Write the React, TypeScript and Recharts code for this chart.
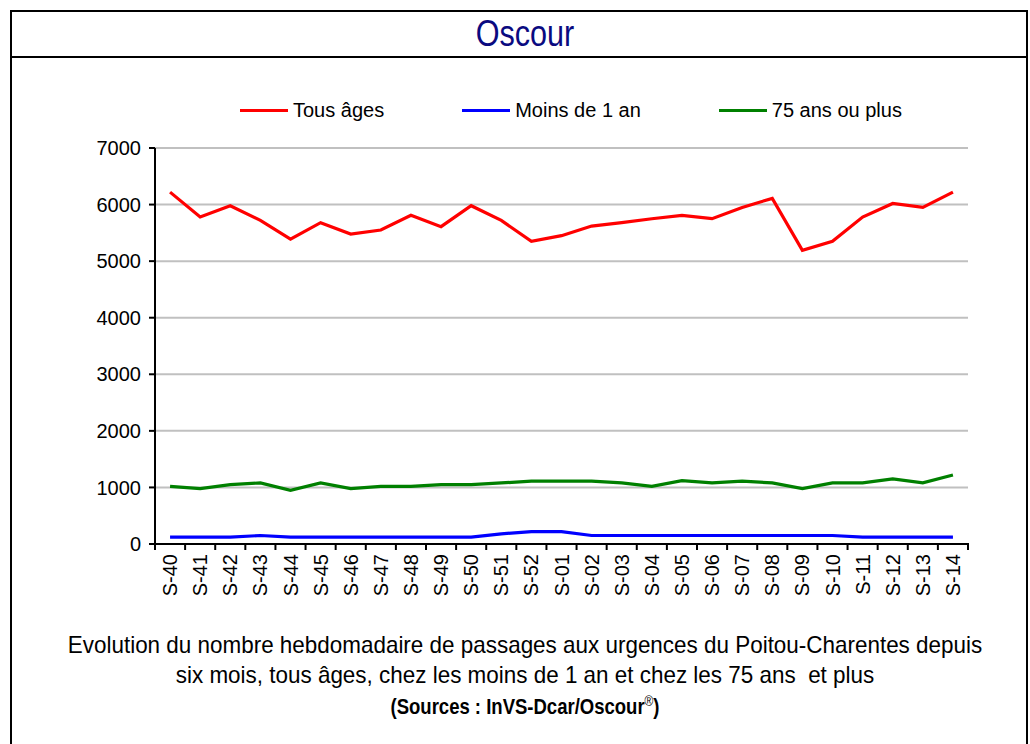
import { CartesianGrid, Line, LineChart, XAxis, YAxis } from "recharts";

const WEEKS = [
  "S-40", "S-41", "S-42", "S-43", "S-44", "S-45", "S-46", "S-47", "S-48", "S-49",
  "S-50", "S-51", "S-52", "S-01", "S-02", "S-03", "S-04", "S-05", "S-06", "S-07",
  "S-08", "S-09", "S-10", "S-11", "S-12", "S-13", "S-14"
];
const TOUS_AGES = [
  6220, 5780, 5980, 5720, 5390, 5680, 5480, 5550, 5810, 5610, 5980, 5720, 5350,
  5450, 5620, 5680, 5750, 5810, 5750, 5950, 6110, 5190, 5350, 5780, 6020, 5950, 6220
];
const MOINS_1_AN = [
  120, 120, 120, 150, 120, 120, 120, 120, 120, 120, 120, 180, 220,
  220, 150, 150, 150, 150, 150, 150, 150, 150, 150, 120, 120, 120, 120
];
const PLUS_75 = [
  1020, 980, 1050, 1080, 950, 1080, 980, 1020, 1020, 1050, 1050, 1080, 1110,
  1110, 1110, 1080, 1020, 1120, 1080, 1110, 1080, 980, 1080, 1080, 1150, 1080, 1220
];
const Y_TICKS = [0, 1000, 2000, 3000, 4000, 5000, 6000, 7000];

const SERIES = [
  { key: "tous", name: "Tous âges", color: "#ff0000", values: TOUS_AGES },
  { key: "moins1", name: "Moins de 1 an", color: "#0000ff", values: MOINS_1_AN },
  { key: "plus75", name: "75 ans ou plus", color: "#008000", values: PLUS_75 }
];

const FONT = "'Liberation Sans', Arial, sans-serif";

const PLOT_LEFT = 155;
const PLOT_RIGHT = 968;
const PLOT_TOP = 148;
const PLOT_BOTTOM = 544;
const Y_AXIS_W = 60;
const X_AXIS_H = 60;
const HALF_STEP = (PLOT_RIGHT - PLOT_LEFT) / WEEKS.length / 2;

const rows = WEEKS.map((week, i) => {
  const row: Record<string, string | number> = { week };
  SERIES.forEach((s) => {
    row[s.key] = s.values[i];
  });
  return row;
});

function WeekTick(props: any) {
  const { x, y, payload, index } = props;
  return (
    <g>
      <line x1={x - HALF_STEP} x2={x - HALF_STEP} y1={y - 9} y2={y - 2} stroke="#000" strokeWidth={2} />
      {index === WEEKS.length - 1 && (
        <line x1={x + HALF_STEP} x2={x + HALF_STEP} y1={y - 9} y2={y - 2} stroke="#000" strokeWidth={2} />
      )}
      <text
        transform={`translate(${x},${y + 2}) rotate(-90)`}
        textAnchor="end"
        dominantBaseline="central"
        fontFamily={FONT}
        fontSize={20}
        fill="#000"
      >
        {payload.value}
      </text>
    </g>
  );
}

export default function App() {
  return (
    <div style={{ position: "absolute", left: 0, top: 0, width: 1030, height: 744, overflow: "hidden", background: "#fff" }}>
      <div
        style={{
          position: "absolute",
          left: 10,
          top: 10,
          width: 1018,
          height: 800,
          border: "2px solid #000",
          boxSizing: "border-box"
        }}
      />
      <div style={{ position: "absolute", left: 10, top: 56, width: 1018, height: 2, background: "#000" }} />
      <div
        style={{
          position: "absolute",
          left: 16,
          top: 12,
          width: 1018,
          height: 44,
          lineHeight: "44px",
          textAlign: "center",
          fontFamily: FONT,
          fontSize: 36,
          color: "#0a0a80",
          transform: "scaleX(0.85)",
          transformOrigin: "center"
        }}
      >
        Oscour
      </div>

      <div style={{ position: "absolute", left: 0, top: 0 }}>
        <LineChart
          width={1030}
          height={744}
          data={rows}
          margin={{
            top: PLOT_TOP,
            right: 1030 - PLOT_RIGHT,
            bottom: 744 - PLOT_BOTTOM - X_AXIS_H,
            left: PLOT_LEFT - Y_AXIS_W
          }}
        >
          <CartesianGrid stroke="#c0c0c0" strokeWidth={2} vertical={false} />
          <XAxis
            dataKey="week"
            interval={0}
            height={X_AXIS_H}
            padding={{ left: HALF_STEP, right: HALF_STEP }}
            axisLine={{ stroke: "#000", strokeWidth: 2 }}
            tickLine={false}
            tick={<WeekTick />}
          />
          <YAxis
            width={Y_AXIS_W}
            domain={[0, 7000]}
            ticks={Y_TICKS}
            interval={0}
            axisLine={{ stroke: "#000", strokeWidth: 2 }}
            tickLine={{ stroke: "#000", strokeWidth: 2 }}
            tickSize={6}
            tickMargin={8}
            tick={{ fontFamily: FONT, fontSize: 20, fill: "#000" }}
          />
          {SERIES.map((s) => (
            <Line
              key={s.key}
              type="linear"
              dataKey={s.key}
              name={s.name}
              stroke={s.color}
              strokeWidth={3.2}
              dot={false}
              activeDot={false}
              isAnimationActive={false}
            />
          ))}
        </LineChart>
      </div>

      <div
        style={{
          position: "absolute",
          left: 240,
          top: 98,
          display: "flex",
          alignItems: "center",
          gap: 78,
          fontFamily: FONT,
          fontSize: 20,
          lineHeight: "24px",
          color: "#000"
        }}
      >
        {SERIES.map((s) => (
          <div key={s.key} style={{ display: "flex", alignItems: "center", gap: 5 }}>
            <div style={{ width: 48, height: 3, background: s.color }} />
            <span>{s.name}</span>
          </div>
        ))}
      </div>

      <div
        style={{
          position: "absolute",
          left: 0,
          top: 630,
          width: 1050,
          textAlign: "center",
          fontFamily: FONT,
          fontSize: 24,
          lineHeight: "30px",
          color: "#000",
          transform: "scaleX(0.935)",
          transformOrigin: "525px 0"
        }}
      >
        <div>Evolution du nombre hebdomadaire de passages aux urgences du Poitou-Charentes depuis</div>
        <div>six mois, tous âges, chez les moins de 1 an et chez les 75 ans&nbsp; et plus</div>
        <div style={{ fontWeight: "bold", fontSize: 22, lineHeight: "22px", transform: "scaleX(0.9)" }}>
          (Sources : InVS-Dcar/Oscour<sup style={{ fontSize: 14, fontWeight: "normal" }}>®</sup>)
        </div>
      </div>
    </div>
  );
}
